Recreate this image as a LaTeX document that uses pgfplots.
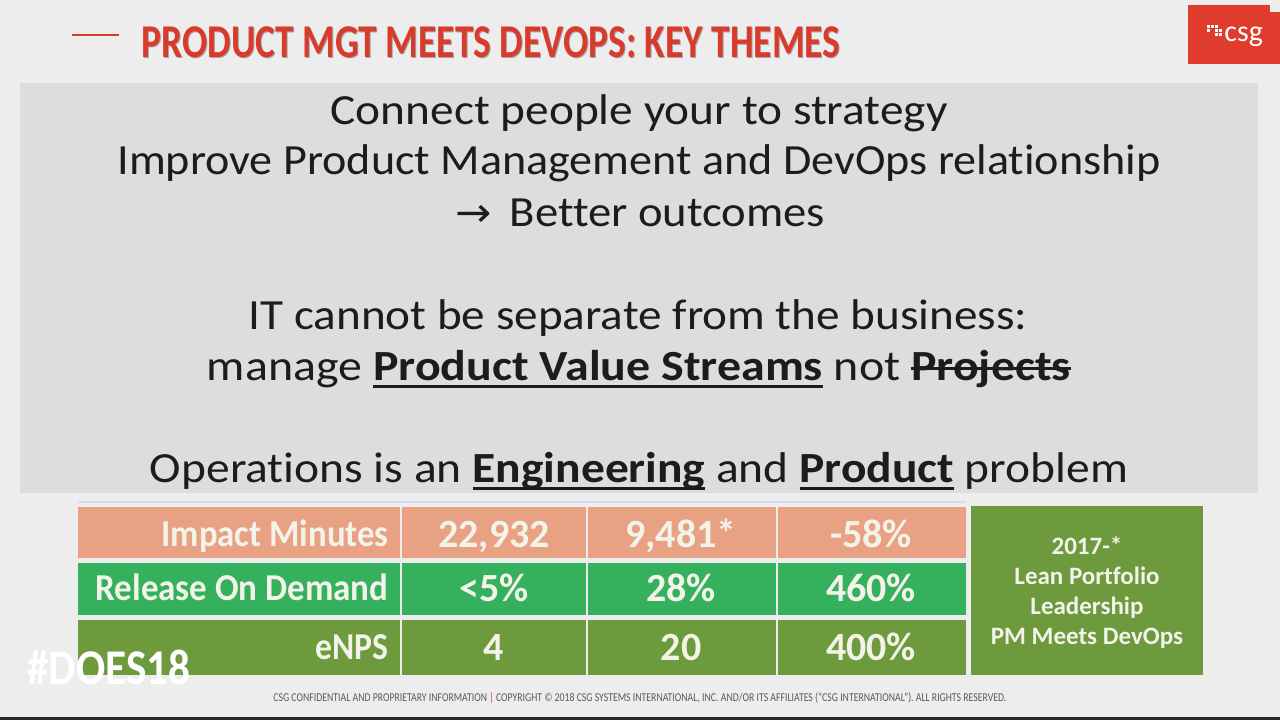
\documentclass[border=0pt]{standalone}
\usepackage{pgfplots}
\pgfplotsset{compat=1.18}
\usepackage{fontspec}
\setmainfont{Carlito}[Ligatures=NoCommon]
\newfontfamily\dejavu{DejaVu Sans}
\usepackage{graphicx}
\definecolor{bg}{HTML}{EDEDED}
\definecolor{panel}{HTML}{DCDEDD}
\definecolor{ink}{HTML}{1C1C1C}
\definecolor{csgred}{HTML}{E03C2E}
\definecolor{titlered}{HTML}{D93A2B}
\definecolor{salmon}{HTML}{E8A183}
\definecolor{rgreen}{HTML}{35B05C}
\definecolor{olive}{HTML}{6C9A3C}
\definecolor{celltext}{HTML}{F3F3EA}
\definecolor{foot}{HTML}{5A5A5A}
\newlength\px
\setlength\px{0.5pt}
\newcommand{\fs}[1]{\fontsize{#1\px}{#1\px}\selectfont}
\newcommand{\fitw}[2]{\resizebox{#1\px}{\height}{#2}}
\newsavebox\ulbox
\newcommand\uline[1]{\sbox\ulbox{#1}\rlap{\rule[-8\px]{\wd\ulbox}{3\px}}\usebox\ulbox}
\newcommand\sout[1]{\sbox\ulbox{#1}\rlap{\rule[10\px]{\wd\ulbox}{3\px}}\usebox\ulbox}
\begin{document}
\begin{tikzpicture}
\begin{axis}[
  width=640pt, height=360pt, scale only axis,
  xmin=0, xmax=1280, ymin=0, ymax=720, y dir=reverse,
  axis lines=none, clip=false, ticks=none]
% background
\fill[bg] (axis cs:0,0) rectangle (axis cs:1280,720);
\fill[black!85] (axis cs:0,717) rectangle (axis cs:1280,720);
% title
\draw[titlered, line width=1pt] (axis cs:72,35) -- (axis cs:119,35);
\node[anchor=base west, inner sep=0pt, text=black!35] at (axis cs:142,58) {\fitw{699}{\fs{47}\bfseries PRODUCT MGT MEETS DEVOPS: KEY THEMES}};
\node[anchor=base west, inner sep=0pt, text=titlered] at (axis cs:141,57) {\fitw{699}{\fs{47}\bfseries PRODUCT MGT MEETS DEVOPS: KEY THEMES}};
% logo
\fill[csgred] (axis cs:1188,5) rectangle (axis cs:1280,64);
\fill[bg] (axis cs:1270,5) rectangle (axis cs:1280,12);
\node[anchor=base west, inner sep=0pt, text=white] at (axis cs:1224,41) {\fs{30}csg};
\foreach \xx/\yy in {1207/25,1211/25,1215/25,1215/29,1215/33,1219/29,1219/33,1207/29} {
  \edef\tmp{\noexpand\fill[white] (axis cs:\xx,\yy) rectangle (axis cs:\xx+3,\yy+3);}\tmp
}
% panel
\fill[panel] (axis cs:20,83) rectangle (axis cs:1258,493);
\node[anchor=base, inner sep=0pt, text=ink] at (axis cs:639,124) {\fitw{617}{\fs{43}Connect people your to strategy}};
\node[anchor=base, inner sep=0pt, text=ink] at (axis cs:639,174) {\fitw{1043}{\fs{43}Improve Product Management and DevOps relationship}};
\node[anchor=base, inner sep=0pt, text=ink] at (axis cs:640,226) {\fitw{370}{\fs{43}{\dejavu\fs{40}→}\, Better outcomes}};
\node[anchor=base, inner sep=0pt, text=ink] at (axis cs:638,329) {\fitw{779}{\fs{43}IT cannot be separate from the business:}};
\node[anchor=base, inner sep=0pt, text=ink] at (axis cs:639,380) {\fitw{864}{\fs{43}manage \uline{\textbf{Product Value Streams}} not \sout{\textbf{Projects}}}};
\node[anchor=base, inner sep=0pt, text=ink] at (axis cs:639,482) {\fitw{978}{\fs{43}Operations is an \uline{\textbf{Engineering}} and \uline{\textbf{Product}} problem}};
% table
\draw[black!20!blue!15, line width=0.6pt] (axis cs:78,502) -- (axis cs:966,502);
\fill[salmon] (axis cs:78,507) rectangle (axis cs:400,558);
\fill[salmon] (axis cs:402,507) rectangle (axis cs:586,558);
\fill[salmon] (axis cs:588,507) rectangle (axis cs:776,558);
\fill[salmon] (axis cs:778,507) rectangle (axis cs:966,558);
\fill[rgreen] (axis cs:78,563) rectangle (axis cs:400,615);
\fill[rgreen] (axis cs:402,563) rectangle (axis cs:586,615);
\fill[rgreen] (axis cs:588,563) rectangle (axis cs:776,615);
\fill[rgreen] (axis cs:778,563) rectangle (axis cs:966,615);
\fill[olive] (axis cs:78,620) rectangle (axis cs:400,675);
\fill[olive] (axis cs:402,620) rectangle (axis cs:586,675);
\fill[olive] (axis cs:588,620) rectangle (axis cs:776,675);
\fill[olive] (axis cs:778,620) rectangle (axis cs:966,675);
\fill[olive] (axis cs:971,506) rectangle (axis cs:1203,675);
% row labels
\node[anchor=base east, inner sep=0pt, text=celltext] at (axis cs:389,546) {\fitw{227}{\fs{38}\bfseries Impact Minutes}};
\node[anchor=base east, inner sep=0pt, text=celltext] at (axis cs:389,600) {\fitw{293}{\fs{38}\bfseries Release On Demand}};
\node[anchor=base east, inner sep=0pt, text=celltext] at (axis cs:389,659) {\fitw{73}{\fs{38}\bfseries eNPS}};
% values
\node[anchor=base, inner sep=0pt, text=celltext] at (axis cs:494,547) {\fs{40}\bfseries 22,932};
\node[anchor=base, inner sep=0pt, text=celltext] at (axis cs:681,547) {\fs{40}\bfseries 9,481*};
\node[anchor=base, inner sep=0pt, text=celltext] at (axis cs:871,547) {\fs{40}\bfseries -58\%};
\node[anchor=base, inner sep=0pt, text=celltext] at (axis cs:494,601) {\fs{40}\bfseries <5\%};
\node[anchor=base, inner sep=0pt, text=celltext] at (axis cs:681,601) {\fs{40}\bfseries 28\%};
\node[anchor=base, inner sep=0pt, text=celltext] at (axis cs:871,601) {\fs{40}\bfseries 460\%};
\node[anchor=base, inner sep=0pt, text=celltext] at (axis cs:494,660) {\fs{40}\bfseries 4};
\node[anchor=base, inner sep=0pt, text=celltext] at (axis cs:681,660) {\fs{40}\bfseries 20};
\node[anchor=base, inner sep=0pt, text=celltext] at (axis cs:871,660) {\fs{40}\bfseries 400\%};
% right box
\node[anchor=base, inner sep=0pt, text=celltext] at (axis cs:1087,554) {\fs{25}\bfseries 2017-*};
\node[anchor=base, inner sep=0pt, text=celltext] at (axis cs:1087,584) {\fs{25}\bfseries Lean Portfolio};
\node[anchor=base, inner sep=0pt, text=celltext] at (axis cs:1087,614) {\fs{25}\bfseries Leadership};
\node[anchor=base, inner sep=0pt, text=celltext] at (axis cs:1087,644) {\fs{25}\bfseries PM Meets DevOps};
% hashtag
\node[anchor=base west, inner sep=0pt, text=white] at (axis cs:27,684) {\fitw{163}{\fs{50}\bfseries \#DOES18}};
% footer
\node[anchor=base west, inner sep=0pt, text=foot] at (axis cs:273,701) {\fitw{733}{\fs{12}CSG CONFIDENTIAL AND PROPRIETARY INFORMATION \textcolor{titlered}{|} COPYRIGHT © 2018 CSG SYSTEMS INTERNATIONAL, INC. AND/OR ITS AFFILIATES (“CSG INTERNATIONAL”). ALL RIGHTS RESERVED.}};
\end{axis}
\end{tikzpicture}
\end{document}
